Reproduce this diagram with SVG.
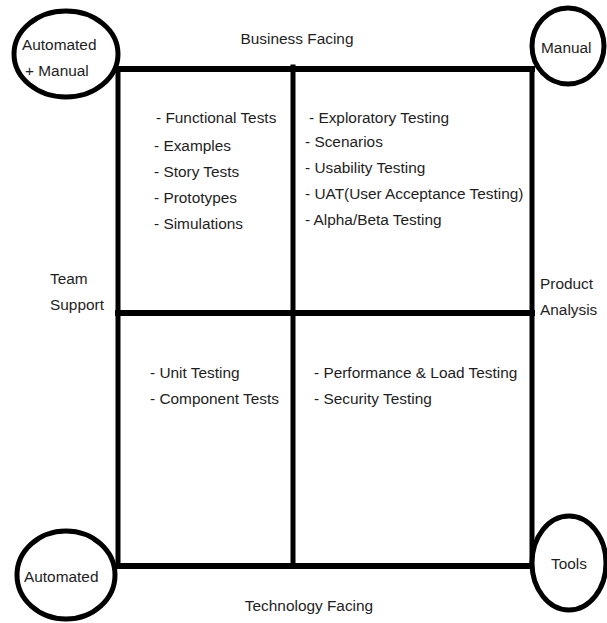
<svg xmlns="http://www.w3.org/2000/svg" width="607" height="623" viewBox="0 0 607 623">
<style>
text{font-family:"Liberation Sans",Arial,sans-serif;font-size:15.4px;fill:#1e1e1e}
.oval{fill:#fff;stroke:#000;stroke-width:5}
.ln{stroke:#000;stroke-width:6;fill:none;stroke-linecap:square}
.lv{stroke:#000;stroke-width:5;fill:none;stroke-linecap:square}
.mid{text-anchor:middle}
</style>
<rect width="607" height="623" fill="#fff"/>
<g id="grid">
<line class="ln" x1="118" y1="69" x2="532" y2="69"/>
<line class="ln" x1="118" y1="313" x2="532" y2="313"/>
<line class="ln" x1="116" y1="566" x2="532" y2="566"/>
<line class="lv" x1="118" y1="69" x2="118" y2="566"/>
<line class="lv" x1="293" y1="67" x2="293" y2="566"/>
<line class="lv" x1="532" y1="69" x2="532" y2="566"/>
</g>
<g id="automated-manual">
<ellipse class="oval" cx="66" cy="54" rx="52" ry="43"/>
<text x="22" y="50">Automated</text>
<text x="25" y="76">+ Manual</text>
</g>
<g id="manual">
<ellipse class="oval" cx="568" cy="46" rx="36" ry="38"/>
<text x="541" y="53">Manual</text>
</g>
<g id="automated">
<ellipse class="oval" cx="66" cy="575" rx="49" ry="44"/>
<text x="24" y="582">Automated</text>
</g>
<g id="tools">
<ellipse class="oval" cx="569" cy="563" rx="37" ry="47"/>
<text x="551" y="569">Tools</text>
</g>
<g id="business-facing"><text class="mid" x="297" y="44">Business Facing</text></g>
<g id="technology-facing"><text class="mid" x="309" y="611">Technology Facing</text></g>
<g id="team-support"><text x="50" y="284">Team</text><text x="50" y="310">Support</text></g>
<g id="product-analysis"><text x="540" y="289">Product</text><text x="540" y="315">Analysis</text></g>
<g id="q1">
<text x="156" y="123">- Functional Tests</text>
<text x="154" y="151">- Examples</text>
<text x="154" y="177">- Story Tests</text>
<text x="154" y="203">- Prototypes</text>
<text x="154" y="229">- Simulations</text>
</g>
<g id="q2">
<text x="309" y="123">- Exploratory Testing</text>
<text x="305" y="147">- Scenarios</text>
<text x="305" y="173">- Usability Testing</text>
<text x="305" y="199">- UAT(User Acceptance Testing)</text>
<text x="305" y="225">- Alpha/Beta Testing</text>
</g>
<g id="q3">
<text x="150" y="378">- Unit Testing</text>
<text x="150" y="404">- Component Tests</text>
</g>
<g id="q4">
<text x="314" y="378">- Performance &amp; Load Testing</text>
<text x="314" y="404">- Security Testing</text>
</g>
</svg>
